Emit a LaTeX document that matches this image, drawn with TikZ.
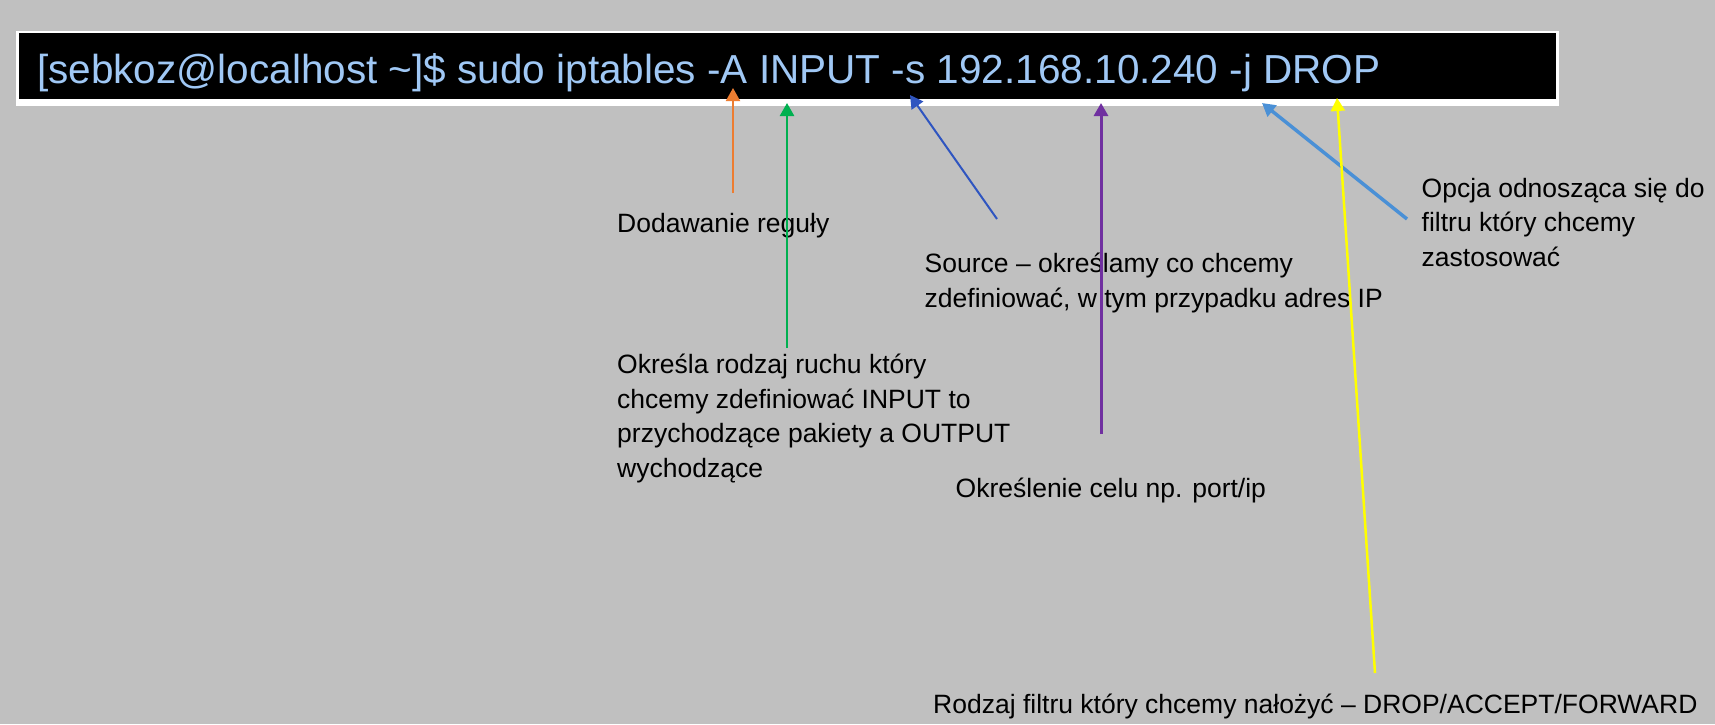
\documentclass[tikz,border=0pt]{standalone}
\usepackage{fontspec}
\setmainfont{Liberation Sans}
\usetikzlibrary{arrows.meta}
\definecolor{bg}{RGB}{192,192,192}
\definecolor{cmdblue}{RGB}{160,200,245}
\definecolor{aorange}{RGB}{237,125,49}
\definecolor{agreen}{RGB}{0,176,80}
\definecolor{adblue}{RGB}{47,85,192}
\definecolor{apurple}{RGB}{112,48,160}
\definecolor{alblue}{RGB}{74,144,214}
\definecolor{ayellow}{RGB}{255,255,0}
\begin{document}
\begin{tikzpicture}[x=1pt,y=-1pt,
  note/.style={anchor=base west, inner sep=0pt, align=left,
    font=\fontsize{26.5}{34.5}\selectfont, text=black},
  pointer/.style={-{Triangle[length=13pt,width=14pt]}},
]
\fill[bg] (0,0) rectangle (1715,724);
\useasboundingbox (0,0) rectangle (1715,724);
% terminal
\fill[white] (16,31) rectangle (1559,106);
\fill[black] (19,33) rectangle (1556,99);
\node[anchor=base west, inner sep=0pt, text=cmdblue,
  font=\fontsize{40.5}{48}\selectfont] (cmd) at (37,83)
  {[sebkoz@localhost \textasciitilde]\$ sudo iptables -A INPUT -s 192.168.10.240 -j DROP};
% notes (anchor = baseline of the last line)
\node[note] (add) at (617,232) {Dodawanie reguły};
\node[note] (src) at (924.5,307) {Source – określamy co chcemy\\zdefiniować, w tym przypadku adres IP};
\node[note] (opt) at (1421.5,266) {Opcja odnosząca się do\\filtru który chcemy\\zastosować};
\node[note] (chain) at (617,477) {Określa rodzaj ruchu który\\chcemy zdefiniować INPUT to\\przychodzące pakiety a OUTPUT\\wychodzące};
\node[note] (dst) at (955.5,497) {Określenie celu np. port/ip};
\node[note] (tgt) at (933,713) {Rodzaj filtru który chcemy nałożyć – DROP/ACCEPT/FORWARD};
% connector ends
\coordinate (oT) at (733,193); \coordinate (oH) at (733,88);
\coordinate (gT) at (787,348); \coordinate (gH) at (787,103);
\coordinate (bT) at (997,219); \coordinate (bH) at (910,95);
\coordinate (pT) at (1101,434); \coordinate (pH) at (1101,103);
\coordinate (lT) at (1407,219); \coordinate (lH) at (1262,103);
\coordinate (yT) at (1375,673); \coordinate (yH) at (1337,98);
% connectors
\draw[pointer, aorange, line width=2pt] (oT) -- (oH);
\draw[pointer, agreen, line width=2.5pt] (gT) -- (gH);
\draw[pointer, adblue, line width=2pt] (bT) -- (bH);
\draw[pointer, apurple, line width=3pt] (pT) -- (pH);
\draw[pointer, alblue, line width=3.5pt] (lT) -- (lH);
\draw[pointer, ayellow, line width=2.5pt] (yT) -- (yH);
\end{tikzpicture}
\end{document}
